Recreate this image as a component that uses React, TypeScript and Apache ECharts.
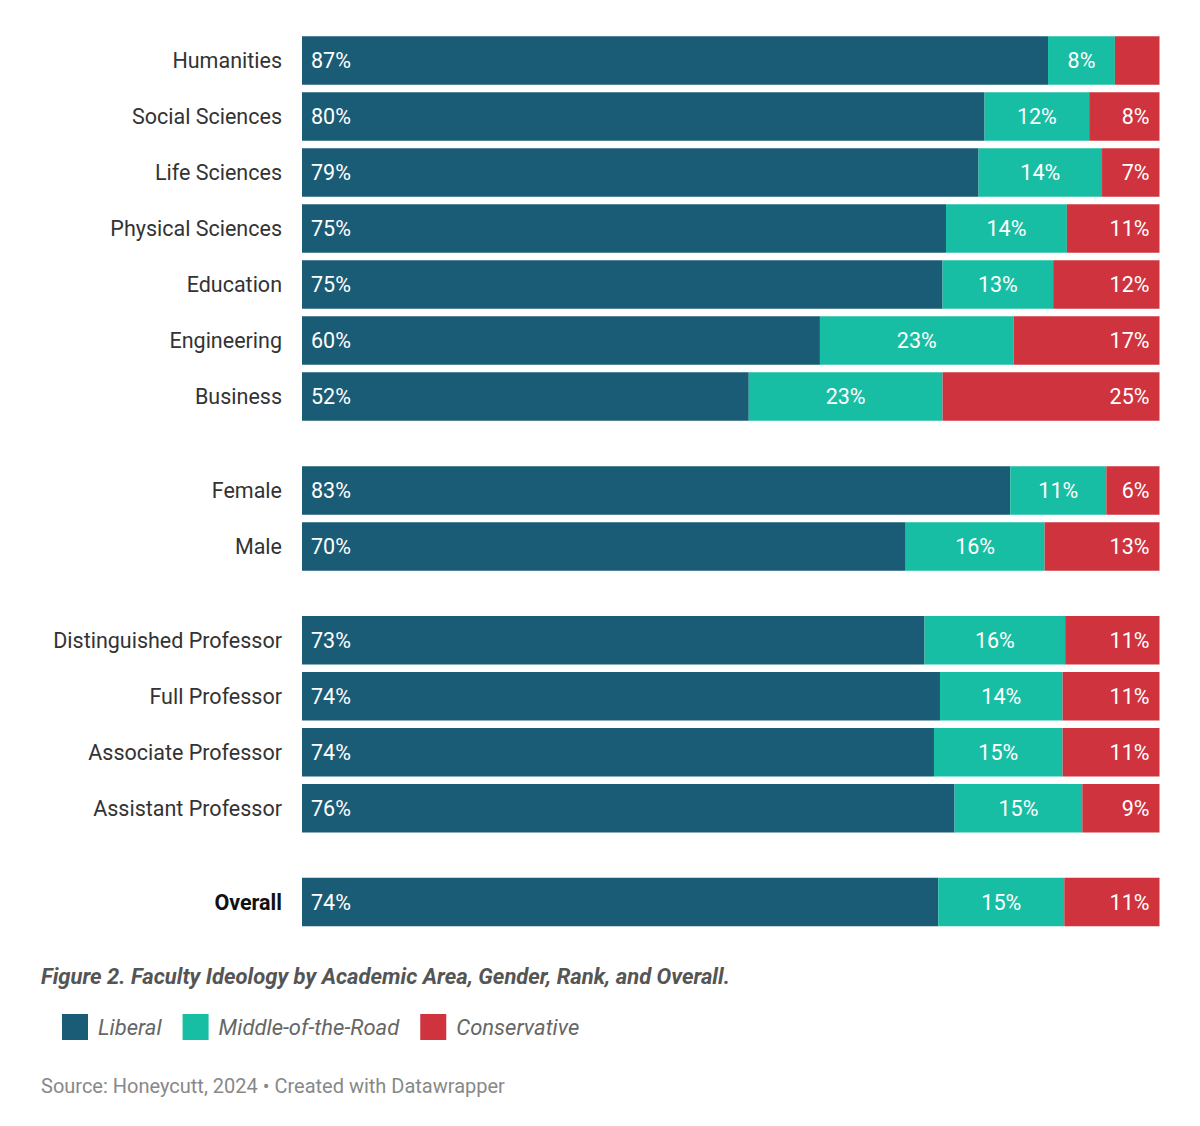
import React, { useEffect, useRef } from "react";
import * as echarts from "echarts";

const areaCats = ["Humanities", "Social Sciences", "Life Sciences", "Physical Sciences", "Education", "Engineering", "Business"];
const areaLiberal = [87.0, 79.6, 78.9, 75.1, 74.7, 60.4, 52.1];
const areaMiddle = [7.8, 12.2, 14.4, 14.1, 12.9, 22.6, 22.6];
const areaConservative = [5.2, 8.2, 6.7, 10.8, 12.4, 17.0, 25.3];

const genderCats = ["Female", "Male"];
const genderLiberal = [82.6, 70.4];
const genderMiddle = [11.2, 16.2];
const genderConservative = [6.2, 13.4];

const rankCats = ["Distinguished Professor", "Full Professor", "Associate Professor", "Assistant Professor"];
const rankLiberal = [72.6, 74.4, 73.7, 76.1];
const rankMiddle = [16.4, 14.3, 15.0, 14.9];
const rankConservative = [11.0, 11.3, 11.3, 9.0];

const overallCats = ["Overall"];
const overallLiberal = [74.2];
const overallMiddle = [14.7];
const overallConservative = [11.1];

const seriesNames = ["Liberal", "Middle-of-the-Road", "Conservative"];
const colors = ["#1a5c76", "#18bea3", "#cf333d"];

const groups = [
  { cats: areaCats, vals: [areaLiberal, areaMiddle, areaConservative], top: 32.5 },
  { cats: genderCats, vals: [genderLiberal, genderMiddle, genderConservative], top: 462.5 },
  { cats: rankCats, vals: [rankLiberal, rankMiddle, rankConservative], top: 612.3 },
  { cats: overallCats, vals: [overallLiberal, overallMiddle, overallConservative], top: 874 },
];

const BAND = 56;
const FONT = "Roboto, 'Noto Sans', sans-serif";

export default function App() {
  const ref = useRef<HTMLDivElement>(null);
  useEffect(() => {
    if (!ref.current) return;
    const chart = echarts.init(ref.current, null, { renderer: "svg" });
    const grids: any[] = [];
    const xAxes: any[] = [];
    const yAxes: any[] = [];
    const series: any[] = [];
    groups.forEach((g, gi) => {
      grids.push({ left: 302, right: 40.5, top: g.top, height: g.cats.length * BAND, containLabel: false });
      xAxes.push({ type: "value", gridIndex: gi, min: 0, max: 100, show: false });
      yAxes.push({
        type: "category",
        gridIndex: gi,
        inverse: true,
        data: g.cats.map((c) => (c === "Overall" ? { value: c, textStyle: { fontWeight: "bold", color: "#111" } } : c)),
        axisLine: { show: false },
        axisTick: { show: false },
        splitLine: { show: false },
        axisLabel: { fontSize: 21.5, color: "#333", margin: 20, fontFamily: FONT },
      });
      g.vals.forEach((v, si) => {
        const pos = si === 0 ? "insideLeft" : si === 1 ? "inside" : "insideRight";
        series.push({
          type: "bar",
          name: seriesNames[si],
          xAxisIndex: gi,
          yAxisIndex: gi,
          stack: "s" + gi,
          data: v,
          barWidth: 48.5,
          itemStyle: { color: colors[si] },
          label: {
            show: true,
            position: pos,
            distance: si === 0 ? 9 : 10,
            color: "#fff",
            fontSize: 21.5,
            fontFamily: FONT,
            formatter: (p: any) => (p.value >= 5.5 ? Math.round(p.value) + "%" : ""),
          },
        });
      });
    });
    chart.setOption({
      animation: false,
      backgroundColor: "#fff",
      title: [
        {
          text: "Figure 2. Faculty Ideology by Academic Area, Gender, Rank, and Overall.",
          left: 41,
          top: 965,
          padding: 0,
          textStyle: { fontFamily: FONT, fontSize: 22, fontWeight: "bold", fontStyle: "italic", color: "#555" },
        },
        {
          text: "Source: Honeycutt, 2024 • Created with Datawrapper",
          left: 41,
          top: 1076,
          padding: 0,
          textStyle: { fontFamily: FONT, fontSize: 20, fontWeight: "normal", color: "#888" },
        },
      ],
      legend: {
        data: seriesNames,
        left: 62,
        top: 1014,
        padding: 0,
        icon: "rect",
        itemWidth: 26,
        itemHeight: 26,
        itemGap: 21,
        textStyle: { fontFamily: FONT, fontSize: 22, fontStyle: "italic", color: "#666", padding: [0, 0, 0, 5] },
        selectedMode: false,
      },
      grid: grids,
      xAxis: xAxes,
      yAxis: yAxes,
      series,
    });
    return () => chart.dispose();
  }, []);
  return <div ref={ref} style={{ position: "absolute", left: 0, top: 0, width: 1200, height: 1126 }} />;
}
